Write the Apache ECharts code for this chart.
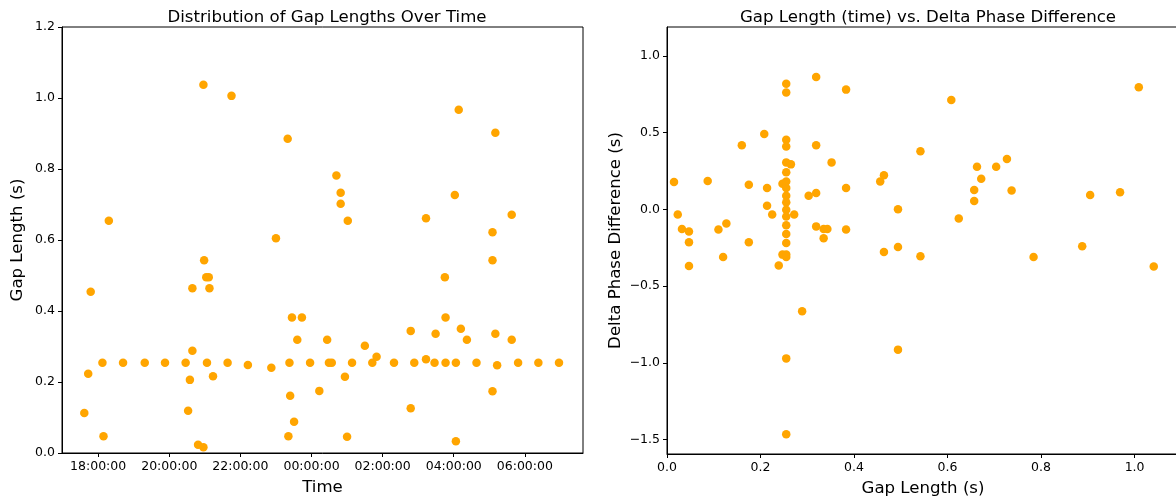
<!DOCTYPE html>
<html>
<head>
<meta charset="utf-8">
<script src="https://cdn.jsdelivr.net/npm/echarts@6/dist/echarts.min.js"></script>
<style>
html,body{margin:0;padding:0;background:#fff;}
#chart{width:1176px;height:497px;}
</style>
</head>
<body>
<div id="chart"></div>
<script>
// Left chart: time (hours since start-of-day, >24 means next day) and gap length (s)
const timeHours = [
  17.61, 17.72, 17.79, 18.12, 18.15, 18.30, 18.70, 19.31, 19.88, 20.46,
  20.53, 20.58, 20.65, 20.65, 20.81, 20.96, 20.96, 20.98, 21.04, 21.06,
  21.11, 21.13, 21.23, 21.64, 21.75, 22.21, 22.87, 23.00, 23.33, 23.35,
  23.38, 23.40, 23.45, 23.51, 23.60, 23.73, 23.96, 24.22, 24.44, 24.49,
  24.57, 24.70, 24.82, 24.82, 24.94, 25.00, 25.02, 25.14, 25.50, 25.71,
  25.83, 26.32, 26.79, 26.79, 26.89, 27.22, 27.22, 27.46, 27.49, 27.75,
  27.77, 27.77, 28.03, 28.06, 28.06, 28.14, 28.20, 28.37, 28.64, 29.09,
  29.09, 29.09, 29.17, 29.17, 29.22, 29.63, 29.63, 29.81, 30.38, 30.96
];
const gapLengths = [
  0.113, 0.223, 0.454, 0.254, 0.047, 0.654, 0.254, 0.254, 0.254, 0.254,
  0.119, 0.206, 0.288, 0.464, 0.023, 0.016, 1.037, 0.543, 0.495, 0.254,
  0.495, 0.464, 0.216, 0.254, 1.006, 0.248, 0.240, 0.605, 0.885, 0.047,
  0.254, 0.161, 0.382, 0.088, 0.319, 0.382, 0.254, 0.175, 0.319, 0.254,
  0.254, 0.782, 0.733, 0.702, 0.215, 0.046, 0.654, 0.254, 0.302, 0.254,
  0.271, 0.254, 0.344, 0.126, 0.254, 0.661, 0.264, 0.254, 0.336, 0.495,
  0.382, 0.254, 0.727, 0.254, 0.033, 0.967, 0.350, 0.319, 0.254, 0.622,
  0.543, 0.174, 0.902, 0.336, 0.247, 0.671, 0.319, 0.254, 0.254, 0.254
];
// Right chart: gap length (s) vs delta phase difference (s)
const scatterGap = [
  0.255, 0.255, 0.319, 0.383, 0.208, 0.160, 0.255, 0.255, 0.319, 0.352,
  0.255, 0.265, 0.255, 0.015, 0.087, 0.175, 0.247, 0.255, 0.255, 0.214,
  0.255, 0.303, 0.319, 0.383, 0.456, 0.464, 0.255, 0.214, 0.225, 0.255,
  0.255, 0.272, 0.494, 0.023, 0.032, 0.047, 0.127, 0.110, 0.255, 0.255,
  0.255, 0.319, 0.335, 0.343, 0.335, 0.383, 0.047, 0.175, 0.120, 0.247,
  0.255, 0.255, 0.464, 0.494, 0.542, 0.542, 0.047, 0.239, 0.289, 0.255,
  0.494, 0.255, 0.608, 1.009, 0.663, 0.704, 0.727, 0.672, 0.657, 0.657,
  0.737, 0.905, 0.969, 0.624, 0.784, 0.888, 1.041
];
const deltaPhase = [
  0.819, 0.762, 0.862, 0.780, 0.491, 0.417, 0.454, 0.410, 0.417, 0.306,
  0.306, 0.293, 0.241, 0.178, 0.185, 0.161, 0.167, 0.182, 0.139, 0.139,
  0.089, 0.089, 0.107, 0.139, 0.182, 0.222, 0.046, 0.024, -0.033, -0.002,
  -0.046, -0.033, 0.000, -0.033, -0.128, -0.145, -0.093, -0.132, -0.104, -0.160,
  -0.219, -0.111, -0.128, -0.128, -0.189, -0.132, -0.215, -0.215, -0.310, -0.295,
  -0.295, -0.310, -0.278, -0.245, 0.378, -0.306, -0.369, -0.366, -0.664, -0.971,
  -0.914, -1.466, 0.713, 0.795, 0.278, 0.278, 0.328, 0.200, 0.126, 0.055,
  0.122, 0.094, 0.111, -0.059, -0.310, -0.241, -0.373
];
const timeTicks = [18, 20, 22, 24, 26, 28, 30];
const gapTicks = [0, 0.2, 0.4, 0.6, 0.8, 1.0, 1.2];
const rightXTicks = [0, 0.2, 0.4, 0.6, 0.8, 1.0];
const rightYTicks = [-1.5, -1.0, -0.5, 0, 0.5, 1.0];

const FONT = 'DejaVu Sans';
const leftData = timeHours.map((t, i) => [t, gapLengths[i]]);
const rightData = scatterGap.map((g, i) => [g, deltaPhase[i]]);

function fmtTime(h) {
  const hh = ((Math.round(h) % 24) + 24) % 24;
  return (hh < 10 ? '0' : '') + hh + ':00:00';
}
function fmtNum(v) {
  const s = Math.abs(v).toFixed(1);
  return v < -1e-9 ? '\u2212' + s : s;
}
const axisCommon = {
  axisLine: { show: true, onZero: false, lineStyle: { color: '#000', width: 1 } },
  axisTick: { show: true, length: 4, lineStyle: { color: '#000', width: 1 } },
  splitLine: { show: false },
  nameTextStyle: { fontFamily: FONT, fontSize: 16.6, color: '#000' }
};
const labelCommon = { fontFamily: FONT, fontSize: 12.5, color: '#000', margin: 7 };

const chart = echarts.init(document.getElementById('chart'), null, { renderer: 'canvas' });
chart.setOption({
  animation: false,
  backgroundColor: '#fff',
  title: [
    { text: 'Distribution of Gap Lengths Over Time', left: 322, top: 4, textAlign: 'center',
      textStyle: { fontFamily: FONT, fontSize: 16.6, fontWeight: 'normal', color: '#000' } },
    { text: 'Gap Length (time) vs. Delta Phase Difference', left: 923, top: 4, textAlign: 'center',
      textStyle: { fontFamily: FONT, fontSize: 16.6, fontWeight: 'normal', color: '#000' } }
  ],
  grid: [
    { left: 62, top: 27, width: 521, height: 426, show: true, borderColor: '#000', borderWidth: 1,
      outerBoundsMode: 'none', containLabel: false },
    { left: 667, top: 27, width: 512, height: 427, show: true, borderColor: '#000', borderWidth: 1,
      outerBoundsMode: 'none', containLabel: false }
  ],
  xAxis: [
    Object.assign({}, axisCommon, {
      gridIndex: 0, type: 'value', min: 16.983, max: 31.635,
      name: 'Time', nameLocation: 'middle', nameGap: 26,
      axisTick: Object.assign({}, axisCommon.axisTick, { customValues: timeTicks }),
      axisLabel: Object.assign({}, labelCommon, { customValues: timeTicks, formatter: fmtTime })
    }),
    Object.assign({}, axisCommon, {
      gridIndex: 1, type: 'value', min: 0, max: 1.095,
      name: 'Gap Length (s)', nameLocation: 'middle', nameGap: 26,
      axisTick: Object.assign({}, axisCommon.axisTick, { customValues: rightXTicks }),
      axisLabel: Object.assign({}, labelCommon, { customValues: rightXTicks, formatter: fmtNum })
    })
  ],
  yAxis: [
    Object.assign({}, axisCommon, {
      gridIndex: 0, type: 'value', min: 0, max: 1.2,
      name: 'Gap Length (s)', nameLocation: 'middle', nameGap: 36,
      axisTick: Object.assign({}, axisCommon.axisTick, { customValues: gapTicks }),
      axisLabel: Object.assign({}, labelCommon, { customValues: gapTicks, formatter: fmtNum })
    }),
    Object.assign({}, axisCommon, {
      gridIndex: 1, type: 'value', min: -1.594, max: 1.188,
      name: 'Delta Phase Difference (s)', nameLocation: 'middle', nameGap: 43,
      axisTick: Object.assign({}, axisCommon.axisTick, { customValues: rightYTicks }),
      axisLabel: Object.assign({}, labelCommon, { customValues: rightYTicks, formatter: fmtNum })
    })
  ],
  series: [
    { type: 'scatter', xAxisIndex: 0, yAxisIndex: 0, data: leftData, symbolSize: 8.5,
      itemStyle: { color: '#FFA500', opacity: 1 } },
    { type: 'scatter', xAxisIndex: 1, yAxisIndex: 1, data: rightData, symbolSize: 8.5,
      itemStyle: { color: '#FFA500', opacity: 1 } }
  ]
});
</script>
</body>
</html>
